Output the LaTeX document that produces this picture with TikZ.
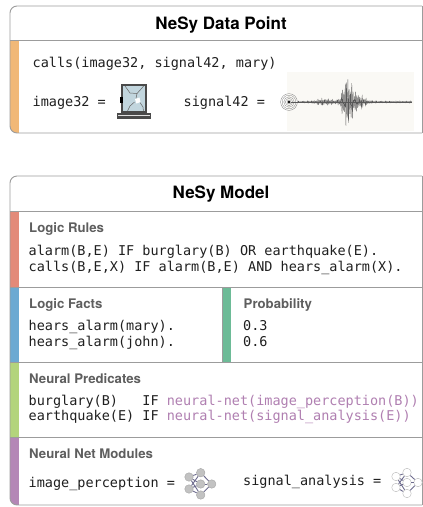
\documentclass[tikz,border=0pt]{standalone}
\usepackage{fontspec}
\setmainfont{TeX Gyre Heros}
\setmonofont{DejaVu Sans Mono}
\usetikzlibrary{positioning}

\definecolor{cardline}{HTML}{9C9C9C}
\definecolor{secgray}{HTML}{5E5E5E}
\definecolor{barorange}{HTML}{F1B877}
\definecolor{barred}{HTML}{E38A79}
\definecolor{barblue}{HTML}{6CA9D2}
\definecolor{bargreen}{HTML}{6DBB97}
\definecolor{barlime}{HTML}{B3D47C}
\definecolor{barpurple}{HTML}{B487B6}
\definecolor{nnpurple}{HTML}{B07FB1}
\definecolor{nnblue}{HTML}{6E6C8E}
\definecolor{nngray}{HTML}{C2C2C2}
\definecolor{glass}{HTML}{C2D6DE}
\definecolor{framegray}{HTML}{4A4A4A}
\definecolor{paper}{HTML}{FAF9F5}

\begin{document}
\begin{tikzpicture}[
    x=1pt, y=-1pt,
    card/.style={draw=cardline, line width=0.9pt},
    rule/.style={draw=cardline, line width=0.8pt},
    title/.style={font=\fontsize{17}{20}\selectfont\bfseries, inner sep=0pt, anchor=base},
    section/.style={font=\fontsize{13.2}{15}\selectfont\bfseries, text=secgray,
      inner sep=0pt, anchor=base west},
    code/.style={font=\fontsize{13.5}{15.4}\selectfont\ttfamily, text=black!88,
      inner sep=0pt, anchor=base west},
    crack/.style={draw=gray!80!black, line width=0.5pt},
    wave/.style={draw=black!65, line width=0.3pt},
    nnedge/.style={draw=nnblue, line width=0.9pt},
    nnfull/.style={circle, fill=nngray, draw=nngray!85!black, line width=0.4pt,
      minimum size=8.5pt, inner sep=0pt},
    nnopen/.style={nnfull, fill=white, draw=gray!55}
  ]
  \useasboundingbox (0,0) rectangle (423,507);
  \fill[white] (0,0) rectangle (423,507);

  % ---------- data point card ----------
  \begin{scope}
    \clip[rounded corners=7pt] (10,6) rectangle (440,133);
    \fill[barorange] (10,40) rectangle (19,133);
  \end{scope}
  \draw[card, rounded corners=7pt] (422,6) -- (10,6) -- (10,133) -- (422,133);
  \draw[card] (422,6) -- (422,133);
  \draw[rule] (10,40) -- (422,40);
  \node[title] (dptitle) at (221,29.3) {NeSy Data Point};

  \node[code] (query) at (32.5,67.7) {calls(image32, signal42, mary)};
  \node[code] (imgeq) at (32.5,106) {image32 =};
  \node[code] (sigeq) at (183.5,106) {signal42 =};

  % broken window
  \fill[glass] (121.5,84.5) rectangle (146,112);
  \draw[crack] (125,86) -- (130,93) -- (137,93.5) -- (142,88) -- (144,85.5);
  \draw[crack] (137,93.5) -- (136,98.5);
  \draw[crack] (134.5,102) -- (130,106) -- (127.5,111);
  \draw[crack] (140,102.5) -- (143,107) -- (143.5,111.5);
  \fill[white] (135,99) -- (139.5,97.5) -- (140.5,102) -- (136.5,103.5) -- cycle;
  \draw[draw=framegray, line width=2pt] (121.5,84.5) rectangle (146,112);
  \fill[framegray] (117,112.5) rectangle (151,118.5);
  \draw[white!75!gray, line width=0.5pt] (118,115.5) -- (150,115.5);
  \fill[black] (120,97) rectangle (123,103);

  % seismic trace
  \fill[paper] (287,72) rectangle (414,131);
  \foreach \r in {2,3.6,...,10}
    \draw[gray, line width=0.3pt] (289,102) circle[radius=\r pt];
  \fill[black] (289,102) circle[radius=1.3pt];
  \draw[wave] (291,102) -- (412,102);
  \draw[wave] plot[domain=7:121, samples=900]
    ({291+\x}, {102 + (1.2 + 23*exp(-min(((\x-56)/4.5)^2,15))
      + 11*exp(-min(((\x-62)/11)^2,15)) + 3*exp(-min(((\x-33)/9)^2,15)))
      * sin(mod(\x,1.3)*276.9) * (0.35+0.65*abs(sin(\x*37)*cos(\x*53)))});

  % ---------- model card ----------
  \begin{scope}
    \clip[rounded corners=7pt] (10,176) rectangle (440,505);
    \fill[barred] (10,211) rectangle (19,287);
    \fill[barblue] (10,287) rectangle (19,362);
    \fill[barlime] (10,362) rectangle (19,437);
    \fill[barpurple] (10,437) rectangle (19,505);
  \end{scope}
  \fill[bargreen] (222,287) rectangle (231,362);
  \draw[rule] (222,287) -- (222,362);
  \draw[card, rounded corners=7pt] (422,176) -- (10,176) -- (10,505) -- (422,505);
  \draw[card] (422,176) -- (422,505);
  \foreach \yy in {211,287,362,437}
    \draw[rule] (10,\yy) -- (422,\yy);
  \node[title] (mtitle) at (221,198.3) {NeSy Model};

  % logic rules
  \node[section] (rules) at (29,232.3) {Logic Rules};
  \node[code] (rule1) at (28.5,255.7) {alarm(B,E) IF burglary(B) OR earthquake(E).};
  \node[code] (rule2) at (28.5,271) {calls(B,E,X) IF alarm(B,E) AND hears\_alarm(X).};

  % facts and their probabilities
  \node[section] (facts) at (29,308.3) {Logic Facts};
  \node[code] (fact1) at (28.5,330.7) {hears\_alarm(mary).};
  \node[code] (fact2) at (28.5,346.7) {hears\_alarm(john).};
  \node[section] (probs) at (243.5,308.3) {Probability};
  \node[code] (prob1) at (243,330.7) {0.3};
  \node[code] (prob2) at (243,346.7) {0.6};

  % neural predicates
  \node[section] (preds) at (29,383) {Neural Predicates};
  \node[code] (pred1) at (28.5,405)
    {burglary(B)\ \ \ IF \textcolor{nnpurple}{neural-net(image\_perception(B))}};
  \node[code] (pred2) at (28.5,420.7)
    {earthquake(E) IF \textcolor{nnpurple}{neural-net(signal\_analysis(E))}};

  % network modules
  \node[section] (mods) at (29,458.3) {Neural Net Modules};
  \node[code] (ipeq) at (28.5,487.3) {image\_perception =};
  \node[code] (saeq) at (243,485) {signal\_analysis =};

  \node[nnfull] (ip-t) at (200.7,472.7) {};
  \node[nnfull] (ip-a) at (189,477) {};
  \node[nnfull] (ip-c) at (189,489) {};
  \node[nnfull] (ip-m) at (200.7,484) {};
  \node[nnfull] (ip-b) at (200.7,495) {};
  \node[nnfull] (ip-r) at (211.7,484) {};

  \node[nnopen] (sa-t) at (407,472.5) {};
  \node[nnopen] (sa-a) at (396,476.5) {};
  \node[nnopen] (sa-c) at (396,487.5) {};
  \node[nnopen] (sa-m) at (407,482.5) {};
  \node[nnopen] (sa-b) at (407,493.5) {};
  \node[nnopen] (sa-r) at (418,482.5) {};

  \foreach \net in {ip,sa}{
    \foreach \i in {a,c}
      \foreach \h in {t,m,b}
        \draw[nnedge] (\net-\i) -- (\net-\h);
    \foreach \h in {t,m,b}
      \draw[nnedge] (\net-\h) -- (\net-r);
  }
\end{tikzpicture}
\end{document}
